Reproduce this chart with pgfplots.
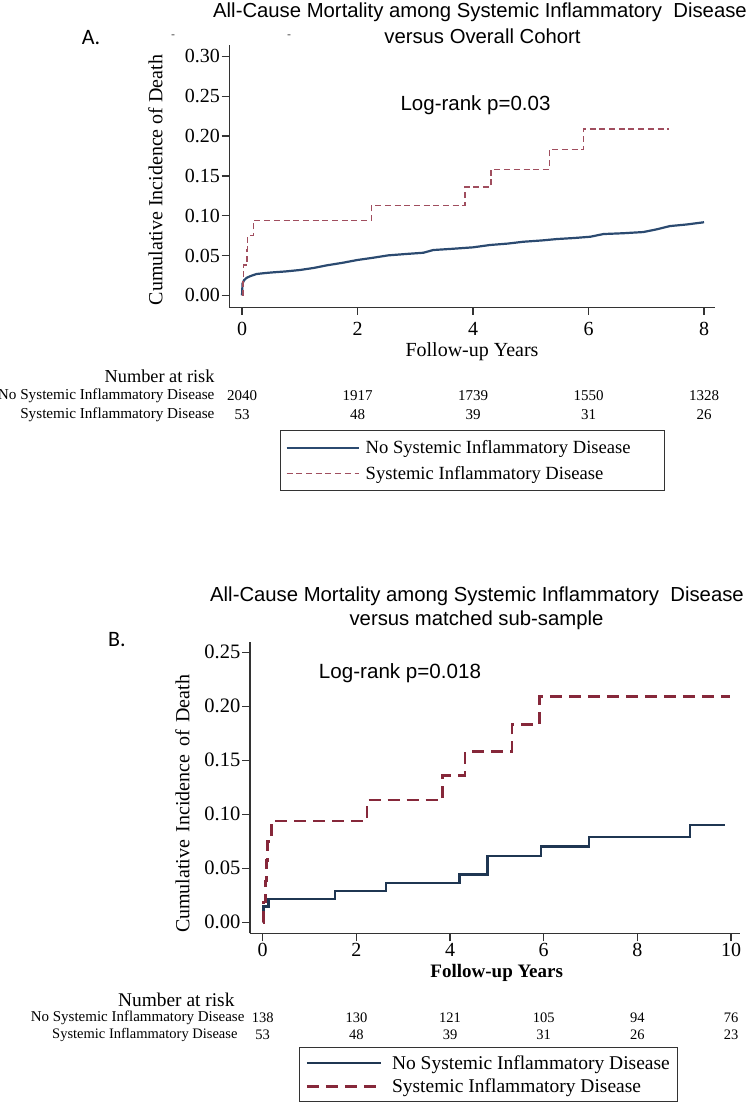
\documentclass[border=0pt]{standalone}
\usepackage{pgfplots}
\pgfplotsset{compat=1.18}
\usepackage{fontspec}
\setmainfont{Liberation Serif}
\newfontfamily\arial{Liberation Sans}
\newfontfamily\calibri{Carlito}
\definecolor{blueA}{HTML}{2B4A70}
\definecolor{redA}{HTML}{A04E5E}
\definecolor{blueB}{HTML}{1F3652}
\definecolor{redB}{HTML}{86283A}
\definecolor{axc}{HTML}{333333}
\newcommand{\fs}[1]{\fontsize{#1pt}{#1pt}\selectfont}
\begin{document}
\begin{tikzpicture}
\useasboundingbox (0pt,0pt) rectangle (750pt,1104pt);
% ---------------- Panel A ----------------
\begin{axis}[
  at={(229.3pt,796.7pt)}, anchor=south west,
  scale only axis, width=485.7pt, height=262.3pt,
  xmin=-0.22, xmax=8.19, ymin=-0.015, ymax=0.3144,
  axis lines=left, axis line style={-, line width=1.2pt, axc},
  xtick={0,2,4,6,8}, ytick={0,0.05,0.1,0.15,0.2,0.25,0.3},
  tick align=outside, major tick length=7.7pt,
  every tick/.style={line width=1.2pt, axc},
  /pgf/number format/assume math mode=true,
  yticklabel style={/pgf/number format/.cd, fixed, fixed zerofill, precision=2, /tikz/.cd, font=\fs{20}, inner sep=1.5pt},
  xticklabel style={font=\fs{20}, yshift=-4pt},
  clip=false,
  legend cell align=left,
  legend image code/.code={\draw[#1] (0pt,0pt) -- (72pt,0pt);},
  legend style={at={(axis description cs:0.1044,-0.4678)}, anchor=north west,
    draw=axc, line width=1pt, fill=white, font=\fs{18.6},
    inner xsep=5pt, inner ysep=8pt, row sep=7pt,
    nodes={inner sep=2pt},
    /tikz/every odd column/.append style={column sep=4pt}},
]
\addplot[blueA, line width=2.2pt] coordinates {
(0,0) (0.005,0.008) (0.01,0.015) (0.035,0.019) (0.08,0.022) (0.14,0.024) (0.25,0.0268) (0.4,0.028) (0.54,0.0289) (0.75,0.030) (1.0,0.0318) (1.25,0.0345) (1.47,0.0377) (1.75,0.041) (1.99,0.0443) (2.25,0.047) (2.53,0.0502) (2.85,0.052) (3.14,0.0535) (3.31,0.0569) (3.65,0.0585) (4.0,0.0603) (4.29,0.0632) (4.6,0.065) (4.87,0.0673) (5.2,0.069) (5.45,0.0707) (5.75,0.072) (6.03,0.0736) (6.26,0.077) (6.6,0.078) (6.95,0.0795) (7.18,0.0829) (7.41,0.087) (7.7,0.089) (8.0,0.0918)};
\addlegendentry{No Systemic Inflammatory Disease\hspace*{27pt}}
\addplot[redA, line width=1.5pt, dash pattern=on 6pt off 3.7pt, const plot] coordinates {
(0,0) (0.015,0.019) (0.025,0.038) (0.09,0.057) (0.095,0.075) (0.2,0.094) (2.24,0.113) (3.86,0.136) (4.31,0.158) (5.32,0.183) (5.91,0.209) (7.39,0.209)};
\addlegendentry{Systemic Inflammatory Disease}
\end{axis}
% ---------------- Panel B ----------------
\begin{axis}[
  at={(250pt,170.7pt)}, anchor=south west,
  scale only axis, width=490pt, height=291.6pt,
  xmin=-0.27, xmax=10.19, ymin=-0.0102, ymax=0.2598,
  axis lines=left, axis line style={-, line width=1.3pt, axc},
  xtick={0,2,4,6,8,10}, ytick={0,0.05,0.1,0.15,0.2,0.25},
  tick align=outside, major tick length=8pt,
  every tick/.style={line width=1.3pt, axc},
  /pgf/number format/assume math mode=true,
  yticklabel style={/pgf/number format/.cd, fixed, fixed zerofill, precision=2, /tikz/.cd, font=\fs{20.5}, inner sep=1.5pt},
  xticklabel style={font=\fs{20}, inner sep=2pt},
  clip=false,
  legend cell align=left,
  legend image code/.code={\draw[#1] (0pt,0pt) -- (74pt,0pt);},
  legend style={at={(axis description cs:0.1,-0.390)}, anchor=north west,
    draw=axc, line width=1pt, fill=white, font=\fs{19.5},
    inner xsep=6pt, inner ysep=6pt, row sep=4pt,
    nodes={inner sep=2pt},
    /tikz/every odd column/.append style={column sep=8pt}},
]
\addplot[blueB, line width=2.5pt, const plot] coordinates {
(0,0) (0.02,0.0145) (0.12,0.0217) (1.54,0.029) (2.63,0.0362) (4.2,0.0443) (4.8,0.0612) (5.94,0.0700) (6.97,0.0790) (9.12,0.0900) (9.87,0.0900)};
\addlegendentry{No Systemic Inflammatory Disease}
\addplot[redB, line width=2.5pt, dash pattern=on 12pt off 7pt, const plot] coordinates {
(0,0) (0.02,0.019) (0.06,0.038) (0.08,0.057) (0.1,0.075) (0.19,0.094) (2.23,0.113) (3.84,0.136) (4.32,0.158) (5.32,0.183) (5.91,0.209) (9.98,0.209)};
\addlegendentry{Systemic Inflammatory Disease}
\end{axis}
\begin{scope}[x=1pt,y=1pt]
\node[font=\arial\fs{20.3}] at (480,1092) {All-Cause Mortality among Systemic Inflammatory\ \ Disease};
\node[font=\arial\fs{20.3}] at (482.5,1068) {versus Overall Cohort};
\node[font=\calibri\fs{22}] at (91,1066) {A.};
\node[font=\arial\fs{12}, text=black!70] at (173,1067) {-};
\node[font=\arial\fs{12}, text=black!70] at (289,1067) {-};
\node[font=\arial\fs{20.5}] at (475.5,999) {Log-rank p=0.03};
\node[font=\fs{20}, rotate=90] at (155.5,924) {Cumulative Incidence of Death};
\node[font=\fs{20}] at (472,752.3) {Follow-up Years};
\node[font=\fs{18.3}, anchor=east] at (218,728) {Number at risk};
\node[font=\fs{15.2}, anchor=east] at (218,708) {No Systemic Inflammatory Disease};
\node[font=\fs{15.2}, anchor=east] at (218,689.7) {Systemic Inflammatory Disease};
\foreach \xx/\a/\b in {242/2040/53, 357.5/1917/48, 473/1739/39, 588.5/1550/31, 704/1328/26} {
  \node[font=\fs{15}] at (\xx,708) {\a};
  \node[font=\fs{15}] at (\xx,689.7) {\b};
}
\node[font=\arial\fs{20.3}] at (477,508) {All-Cause Mortality among Systemic Inflammatory\ \ Disease};
\node[font=\arial\fs{20.3}] at (476.5,484) {versus matched sub-sample};
\node[font=\calibri\fs{22}] at (117,464) {B.};
\node[font=\arial\fs{20.6}] at (400,430.5) {Log-rank p=0.018};
\node[font=\fs{20}, rotate=90] at (182.5,300) {Cumulative\hspace{2.5pt} Incidence\hspace{2.5pt} of\hspace{2.5pt} Death};
\node[font=\bfseries\fs{19}, inner sep=1pt] at (496.7,131) {Follow-up Years};
\node[font=\fs{19.4}, anchor=east] at (238,104) {Number at risk};
\node[font=\fs{15}, anchor=east] at (248,86) {No Systemic Inflammatory Disease};
\node[font=\fs{14.5}, anchor=east] at (241,69) {Systemic Inflammatory Disease};
\foreach \xx/\a/\b in {262.7/138/53, 356.4/130/48, 450/121/39, 543.7/105/31, 637.3/94/26, 731/76/23} {
  \node[font=\fs{14.5}] at (\xx,86) {\a};
  \node[font=\fs{14.5}] at (\xx,69) {\b};
}
\end{scope}
\end{tikzpicture}
\end{document}
